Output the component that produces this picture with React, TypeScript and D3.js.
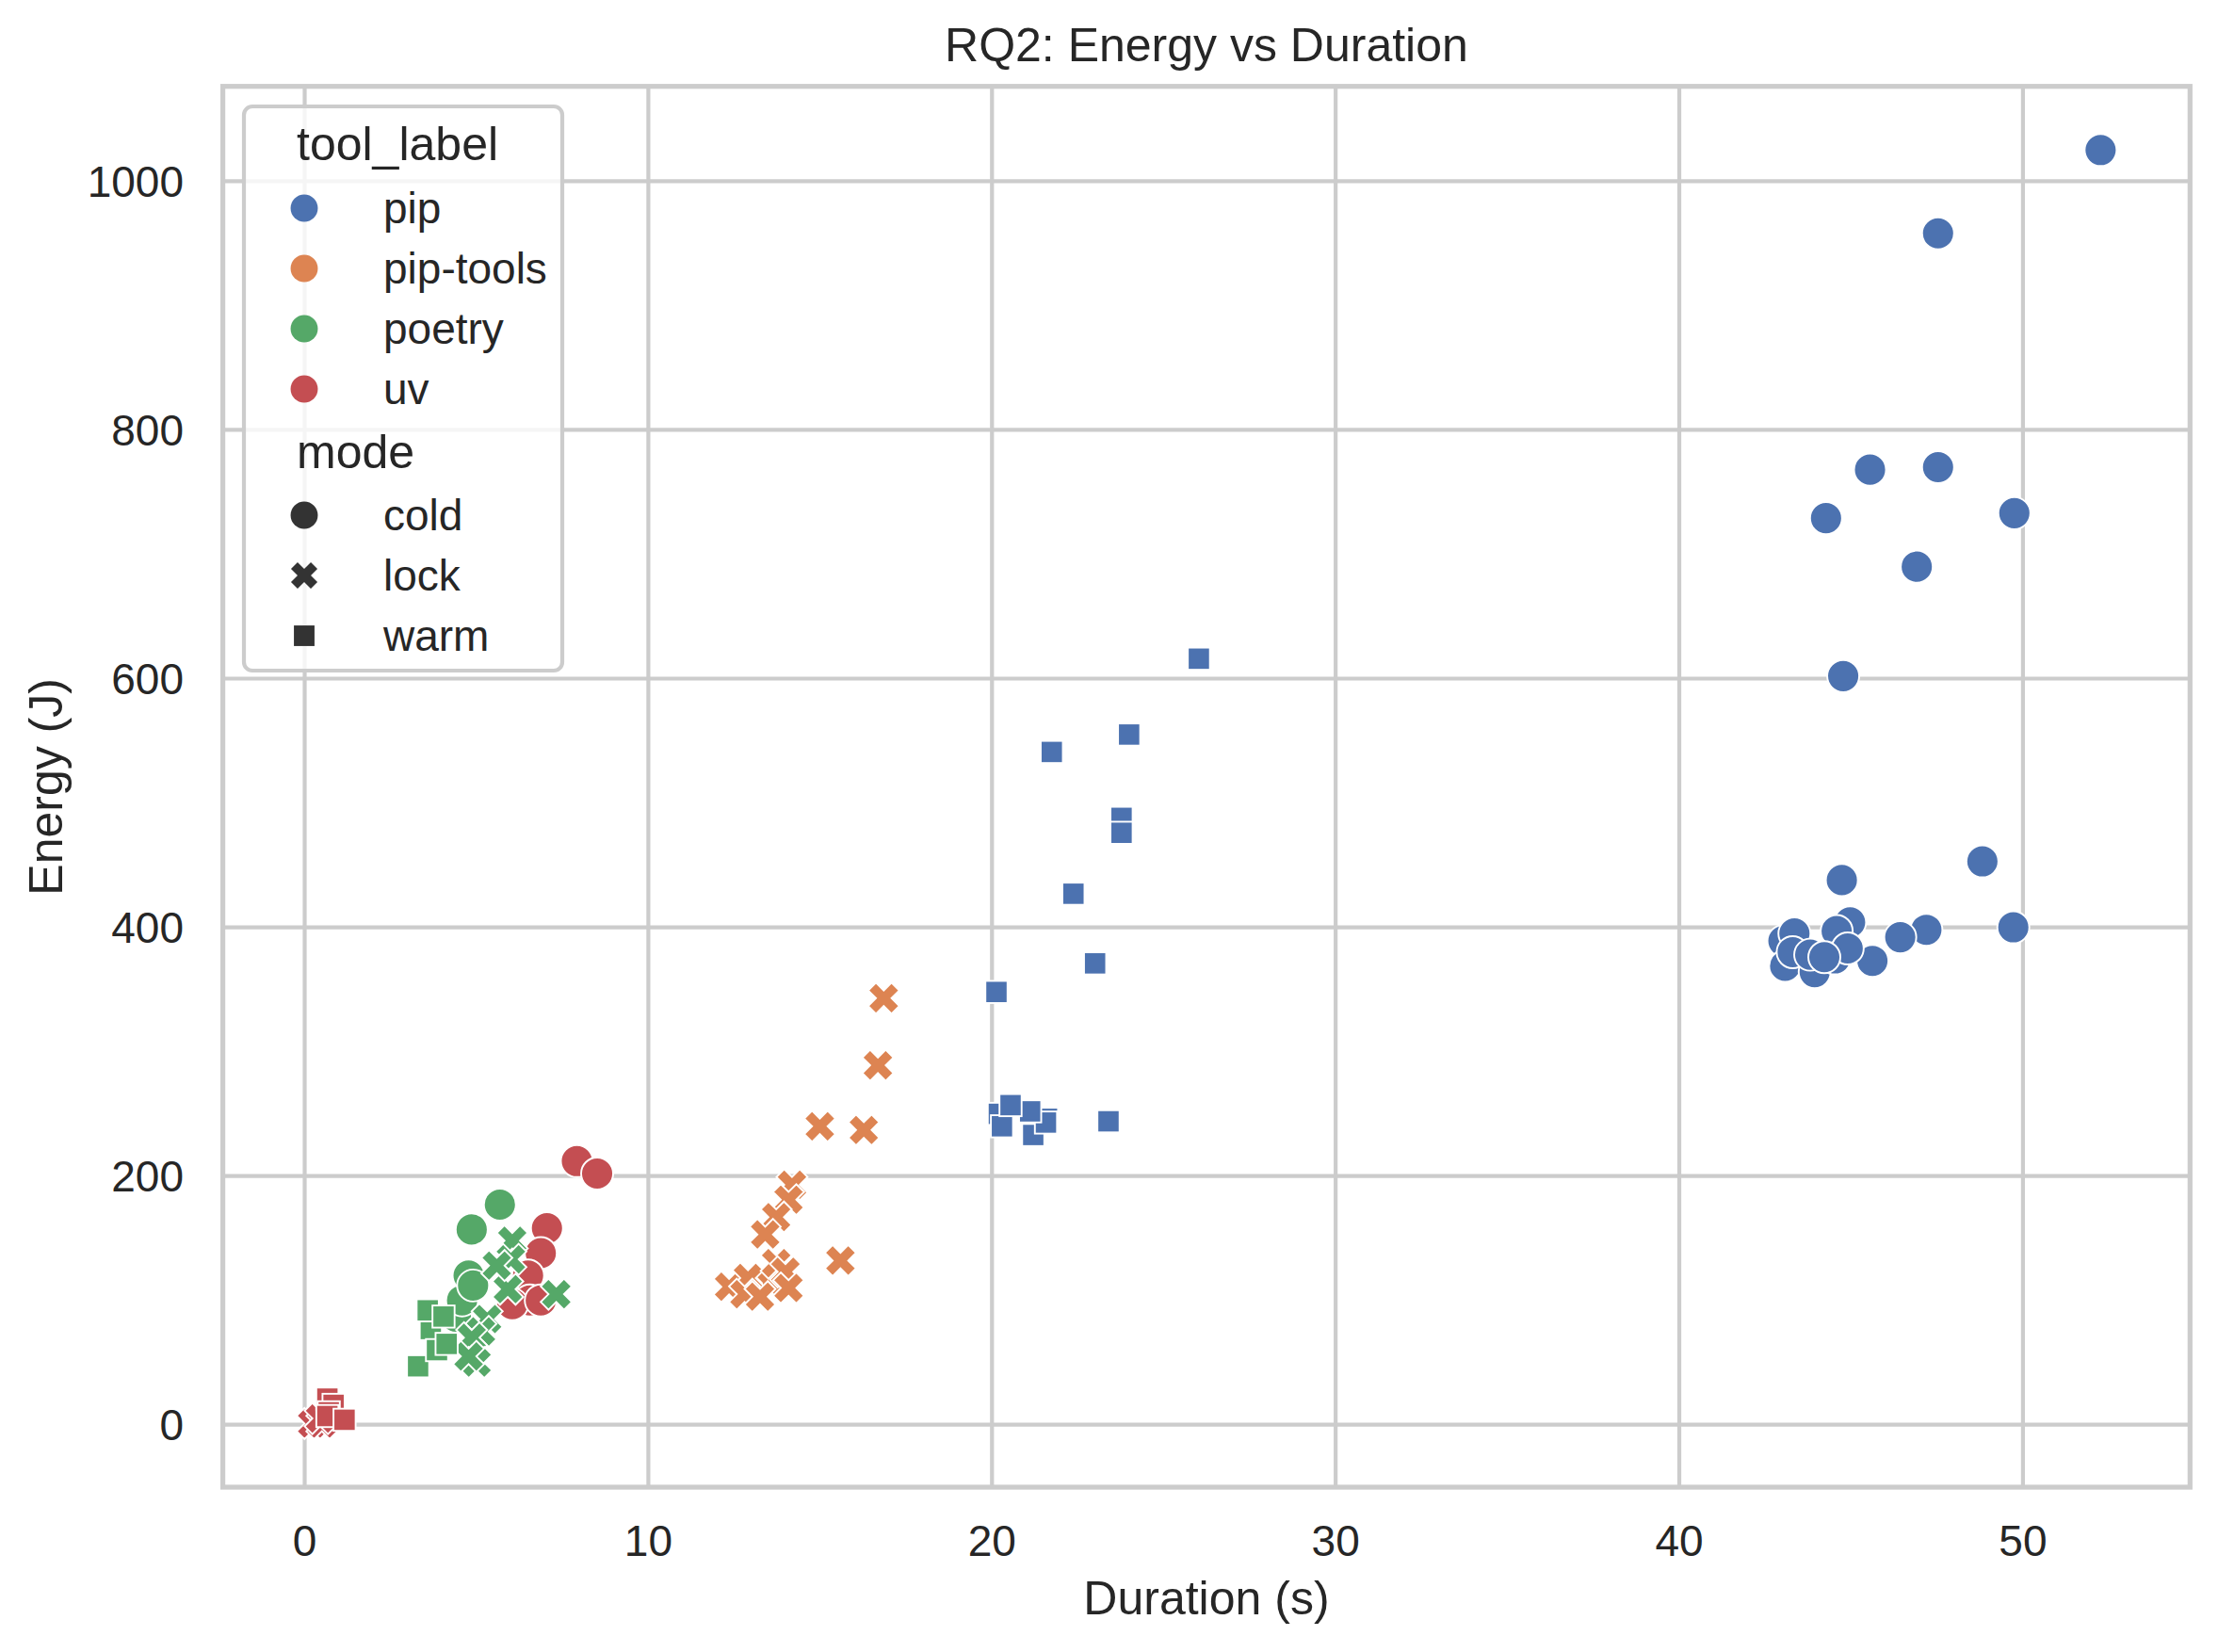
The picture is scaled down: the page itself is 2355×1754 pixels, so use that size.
import { useEffect, useRef } from "react";
import * as d3 from "d3";

// [duration (s), energy (J)] per tool / mode
const pipCold: [number, number][] = [
  [52.26, 1025], [47.53, 958], [45.55, 768], [47.53, 770], [44.27, 729],
  [49.75, 733], [46.91, 690], [44.77, 602], [48.82, 453], [44.73, 438],
  [49.72, 400], [47.19, 398], [46.43, 392], [45.62, 373], [44.97, 404],
  [44.58, 397], [43.03, 389], [43.35, 395], [43.08, 369], [43.94, 364],
  [43.3, 380], [43.81, 378], [44.53, 375], [44.9, 383], [44.22, 376],
];
const pipWarm: [number, number][] = [
  [26.02, 616], [23.99, 555], [21.74, 541], [23.77, 488], [23.77, 476],
  [22.37, 427], [23.0, 371], [20.13, 348], [23.39, 244], [20.2, 250],
  [20.29, 240], [21.2, 233], [21.6, 246], [21.57, 243], [21.11, 252],
  [20.54, 257],
];
const pipToolsLock: [number, number][] = [
  [16.85, 343], [16.68, 289], [14.99, 240], [16.27, 237], [15.59, 132],
  [14.18, 193], [14.08, 181], [13.72, 167], [13.4, 153], [13.53, 114],
  [12.35, 111], [12.9, 118], [13.72, 130], [13.99, 123], [12.8, 105],
  [13.25, 103], [14.08, 110],
];
const poetryCold: [number, number][] = [
  [5.68, 177], [4.86, 157], [4.4, 87], [4.58, 100], [4.77, 120], [4.9, 112],
];
const poetryLock: [number, number][] = [
  [7.32, 105], [6.04, 148], [6.0, 133], [5.91, 109], [5.59, 128],
  [5.31, 85], [5.13, 75], [4.86, 70], [5.0, 50], [4.77, 55],
];
const poetryWarm: [number, number][] = [
  [3.3, 47], [3.67, 77], [3.58, 92], [4.04, 87], [3.85, 60], [4.13, 65],
];
const uvCold: [number, number][] = [
  [7.92, 212], [8.51, 202], [7.05, 158], [6.87, 138], [6.5, 120],
  [6.55, 100], [6.04, 97], [6.87, 100],
];
const uvLock: [number, number][] = [[0.22, 1], [0.5, 1], [0.45, 5]];
const uvWarm: [number, number][] = [
  [0.66, 21], [0.84, 16], [0.7, 10], [0.66, 7], [1.16, 4],
];

const tools = ["pip", "pip-tools", "poetry", "uv"];
const modes = ["cold", "lock", "warm"];
const toolColors = ["#4C72B0", "#DD8452", "#55A868", "#C44E52"];
const xTicks = [0, 10, 20, 30, 40, 50];
const yTicks = [0, 200, 400, 600, 800, 1000];

// draw order: by mode, then by tool
const groups = [
  { tool: "pip", mode: "cold", pts: pipCold },
  { tool: "poetry", mode: "cold", pts: poetryCold },
  { tool: "uv", mode: "cold", pts: uvCold },
  { tool: "pip-tools", mode: "lock", pts: pipToolsLock },
  { tool: "poetry", mode: "lock", pts: poetryLock },
  { tool: "uv", mode: "lock", pts: uvLock },
  { tool: "pip", mode: "warm", pts: pipWarm },
  { tool: "poetry", mode: "warm", pts: poetryWarm },
  { tool: "uv", mode: "warm", pts: uvWarm },
];

const FONT = "'Liberation Sans', Arial, Helvetica, sans-serif";
const TEXT = "#262626";
const GRID = "#cccccc";

// matplotlib filled X marker outline, unit box centred on 0
const xVerts = [
  [0.25, 0], [0.5, 0.25], [0.75, 0], [1, 0.25], [0.75, 0.5], [1, 0.75],
  [0.75, 1], [0.5, 0.75], [0.25, 1], [0, 0.75], [0.25, 0.5], [0, 0.25],
];
function xPath(size: number) {
  return (
    "M" +
    xVerts.map(([a, b]) => `${(a - 0.5) * size},${(b - 0.5) * size}`).join("L") +
    "Z"
  );
}

function drawMarker(
  g: d3.Selection<SVGGElement, unknown, null, undefined>,
  mode: string,
  x: number,
  y: number,
  color: string,
  scale: number,
  edge: boolean
) {
  const sw = edge ? 1.9 : 0;
  if (mode === "cold") {
    g.append("circle")
      .attr("cx", x)
      .attr("cy", y)
      .attr("r", 17 * scale)
      .attr("fill", color)
      .attr("stroke", edge ? "white" : "none")
      .attr("stroke-width", sw);
  } else if (mode === "warm") {
    const s = 23.5 * scale;
    g.append("rect")
      .attr("x", x - s / 2)
      .attr("y", y - s / 2)
      .attr("width", s)
      .attr("height", s)
      .attr("fill", color)
      .attr("stroke", edge ? "white" : "none")
      .attr("stroke-width", sw);
  } else {
    g.append("path")
      .attr("d", xPath(33 * scale))
      .attr("transform", `translate(${x},${y})`)
      .attr("fill", color)
      .attr("stroke", edge ? "white" : "none")
      .attr("stroke-width", sw)
      .attr("stroke-linejoin", "miter");
  }
}

export default function App() {
  const svgRef = useRef<SVGSVGElement>(null);

  useEffect(() => {
    if (!svgRef.current) return;
    const svg = d3.select(svgRef.current);
    svg.selectAll("*").remove();

    const width = 2355;
    const height = 1754;
    const left = 236.6;
    const right = 2325.3;
    const top = 91.7;
    const bottom = 1579;

    const all = groups.flatMap((g) => g.pts);
    const [x0, x1] = d3.extent(all, (d) => d[0]) as [number, number];
    const [y0, y1] = d3.extent(all, (d) => d[1]) as [number, number];
    const px = (x1 - x0) * 0.05;
    const py = (y1 - y0) * 0.05;

    const x = d3.scaleLinear().domain([x0 - px, x1 + px]).range([left, right]);
    const y = d3.scaleLinear().domain([y0 - py, y1 + py]).range([bottom, top]);
    const color = d3.scaleOrdinal<string, string>().domain(tools).range(toolColors);

    svg.attr("width", width).attr("height", height);
    svg.append("rect").attr("width", width).attr("height", height).attr("fill", "white");

    // grid
    const grid = svg.append("g");
    xTicks.forEach((t) => {
      grid
        .append("line")
        .attr("x1", x(t))
        .attr("x2", x(t))
        .attr("y1", top)
        .attr("y2", bottom)
        .attr("stroke", GRID)
        .attr("stroke-width", 4.2);
    });
    yTicks.forEach((t) => {
      grid
        .append("line")
        .attr("x1", left)
        .attr("x2", right)
        .attr("y1", y(t))
        .attr("y2", y(t))
        .attr("stroke", GRID)
        .attr("stroke-width", 4.2);
    });

    // points
    const pts = svg.append("g");
    groups.forEach((grp) => {
      grp.pts.forEach((d) => {
        drawMarker(pts, grp.mode, x(d[0]), y(d[1]), color(grp.tool), 1, true);
      });
    });

    // spines
    svg
      .append("rect")
      .attr("x", left)
      .attr("y", top)
      .attr("width", right - left)
      .attr("height", bottom - top)
      .attr("fill", "none")
      .attr("stroke", GRID)
      .attr("stroke-width", 5.2);

    // tick labels
    xTicks.forEach((t) => {
      svg
        .append("text")
        .attr("x", x(t))
        .attr("y", 1652)
        .attr("text-anchor", "middle")
        .attr("font-family", FONT)
        .attr("font-size", 46)
        .attr("fill", TEXT)
        .text(t);
    });
    yTicks.forEach((t) => {
      svg
        .append("text")
        .attr("x", 195)
        .attr("y", y(t))
        .attr("dy", "0.36em")
        .attr("text-anchor", "end")
        .attr("font-family", FONT)
        .attr("font-size", 46)
        .attr("fill", TEXT)
        .text(t);
    });

    // axis labels + title
    svg
      .append("text")
      .attr("x", (left + right) / 2)
      .attr("y", 1714)
      .attr("text-anchor", "middle")
      .attr("font-family", FONT)
      .attr("font-size", 50)
      .attr("fill", TEXT)
      .text("Duration (s)");
    svg
      .append("text")
      .attr("transform", `translate(66,${(top + bottom) / 2}) rotate(-90)`)
      .attr("text-anchor", "middle")
      .attr("font-family", FONT)
      .attr("font-size", 50)
      .attr("fill", TEXT)
      .text("Energy (J)");
    svg
      .append("text")
      .attr("x", (left + right) / 2)
      .attr("y", 65)
      .attr("text-anchor", "middle")
      .attr("font-family", FONT)
      .attr("font-size", 50)
      .attr("fill", TEXT)
      .text("RQ2: Energy vs Duration");

    // legend
    const lg = svg.append("g");
    lg.append("rect")
      .attr("x", 259)
      .attr("y", 113)
      .attr("width", 338)
      .attr("height", 599)
      .attr("rx", 9)
      .attr("fill", "white")
      .attr("fill-opacity", 0.8)
      .attr("stroke", GRID)
      .attr("stroke-width", 4.2);

    const markerX = 323;
    const labelX = 407;
    const row = 64;

    lg.append("text")
      .attr("x", 315)
      .attr("y", 152)
      .attr("dy", "0.36em")
      .attr("font-family", FONT)
      .attr("font-size", 50)
      .attr("fill", TEXT)
      .text("tool_label");
    tools.forEach((t, i) => {
      const cy = 221 + i * row;
      drawMarker(lg, "cold", markerX, cy, color(t), 0.85, false);
      lg.append("text")
        .attr("x", labelX)
        .attr("y", cy - 1)
        .attr("dy", "0.36em")
        .attr("font-family", FONT)
        .attr("font-size", 46)
        .attr("fill", TEXT)
        .text(t);
    });
    lg.append("text")
      .attr("x", 315)
      .attr("y", 479)
      .attr("dy", "0.36em")
      .attr("font-family", FONT)
      .attr("font-size", 50)
      .attr("fill", TEXT)
      .text("mode");
    modes.forEach((m, i) => {
      const cy = 547 + i * row;
      const sc = m === "warm" ? 0.93 : 0.85;
      drawMarker(lg, m, markerX, cy, "#333333", sc, false);
      lg.append("text")
        .attr("x", labelX)
        .attr("y", cy - 1)
        .attr("dy", "0.36em")
        .attr("font-family", FONT)
        .attr("font-size", 46)
        .attr("fill", TEXT)
        .text(m);
    });
  }, []);

  return (
    <svg
      ref={svgRef}
      style={{ position: "absolute", left: 0, top: 0, display: "block" }}
    ></svg>
  );
}
